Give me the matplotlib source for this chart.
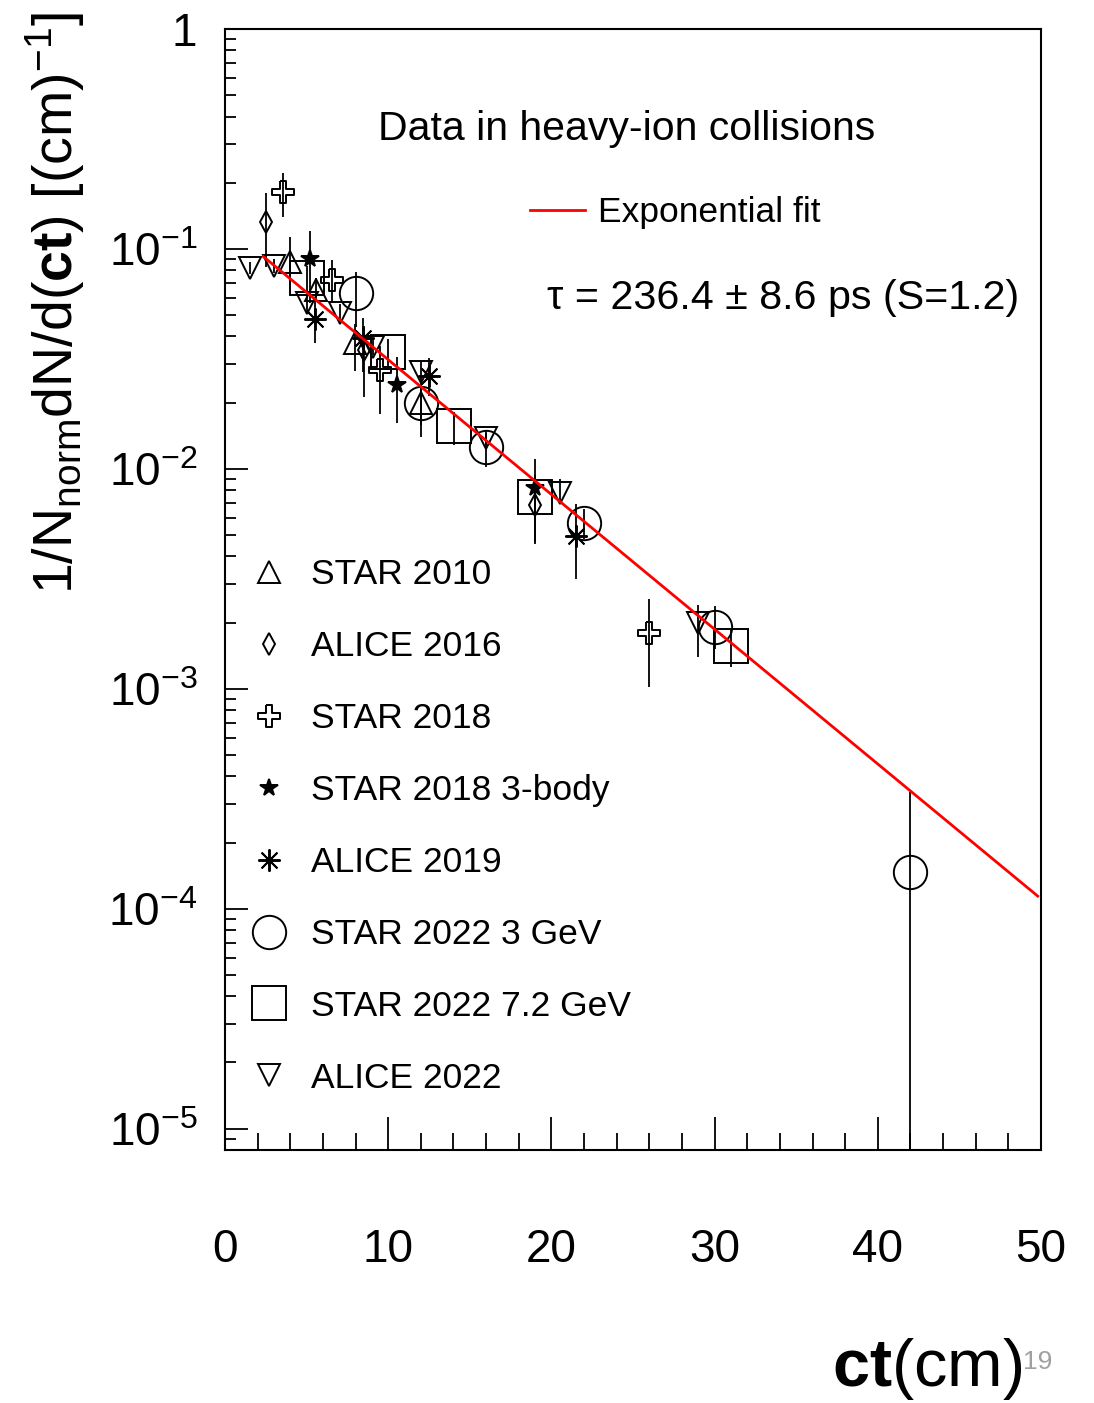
import numpy as np
import matplotlib
matplotlib.use('Agg')
import matplotlib.pyplot as plt
from matplotlib.ticker import MultipleLocator, FixedLocator, LogLocator, FuncFormatter, NullFormatter

plt.rcParams['font.family'] = ['Liberation Sans', 'DejaVu Sans']
plt.rcParams['mathtext.fontset'] = 'custom'
plt.rcParams['mathtext.rm'] = 'Liberation Sans'
plt.rcParams['mathtext.it'] = 'Liberation Sans:italic'
plt.rcParams['mathtext.bf'] = 'Liberation Sans:bold'

# ---- data: ct (cm), 1/N dN/d(ct), lower / upper errors ----
star2010_ct = [3.98, 5.55, 7.97, 12.0]
star2010_y = [0.0875, 0.065, 0.0375, 0.0200]
star2010_lo = [0.015, 0.0065, 0.0095, 0.006]
star2010_hi = [0.0255, 0.009, 0.008, 0.005]

alice2016_ct = [2.5, 8.52, 19.0]
alice2016_y = [0.133, 0.0347, 0.00686]
alice2016_lo = [0.05, 0.0135, 0.0022]
alice2016_hi = [0.047, 0.010, 0.0025]

star2018_ct = [3.53, 6.54, 9.5, 26.0]
star2018_y = [0.181, 0.0723, 0.0283, 0.0018]
star2018_lo = [0.041, 0.0153, 0.0105, 0.00078]
star2018_hi = [0.040, 0.0167, 0.008, 0.00077]

star2018b_ct = [5.2, 10.52, 19.0]
star2018b_y = [0.090, 0.0240, 0.00817]
star2018b_lo = [0.033, 0.0078, 0.0036]
star2018b_hi = [0.0307, 0.0082, 0.0029]

alice2019_ct = [5.51, 8.48, 12.52, 21.5]
alice2019_y = [0.048, 0.0393, 0.0265, 0.00495]
alice2019_lo = [0.0105, 0.0116, 0.005, 0.0018]
alice2019_hi = [0.012, 0.0093, 0.0053, 0.002]

star3gev_ct = [8.03, 12.0, 16.0, 22.0, 30.0, 42.0]
star3gev_y = [0.0633, 0.0199, 0.01256, 0.0057, 0.00192, 1.47e-4]
star3gev_lo = [0.019, 0.004, 0.0024, 0.0009, 0.0004, 1.468e-4]
star3gev_hi = [0.0156, 0.004, 0.002, 0.0009, 0.00046, 1.91e-4]

star72gev_ct = [5.0, 10.0, 14.03, 19.0, 31.0]
star72gev_y = [0.0738, 0.0341, 0.0157, 0.00748, 0.00156]
star72gev_lo = [0.010, 0.005, 0.0028, 0.001, 0.0003]
star72gev_hi = [0.010, 0.005, 0.0025, 0.001, 0.0003]

alice2022_ct = [1.53, 3.0, 5.04, 7.05, 9.09, 12.0, 16.0, 20.5, 29.0]
alice2022_y = [0.082, 0.084, 0.0566, 0.051, 0.036, 0.0275, 0.0138, 0.00776, 0.0020]
alice2022_lo = [0.005, 0.006, 0.005, 0.005, 0.003, 0.003, 0.001, 0.0006, 0.0006]
alice2022_hi = [0.005, 0.006, 0.005, 0.005, 0.003, 0.003, 0.001, 0.0012, 0.0004]

# exponential fit
tau_ps = 236.4
tau_err = 8.6
s_factor = 1.2
fit_norm = 0.1286
fit_range = [2.35, 49.8]
c_cm_per_ps = 0.0299792458

fig = plt.figure(figsize=(10.94, 14.03), dpi=100)
ax = fig.add_axes([225/1094, 1 - 1150/1403, 816/1094, 1121/1403])

cw = 0.3
cross = [(-cw, 1), (cw, 1), (cw, cw), (1, cw), (1, -cw), (cw, -cw), (cw, -1),
         (-cw, -1), (-cw, -cw), (-1, -cw), (-1, cw), (-cw, cw), (-cw, 1)]

series = [
    ('STAR 2010', star2010_ct, star2010_y, star2010_lo, star2010_hi, '^', 16, 'none'),
    ('ALICE 2016', alice2016_ct, alice2016_y, alice2016_lo, alice2016_hi, 'd', 10.7, 'none'),
    ('STAR 2018', star2018_ct, star2018_y, star2018_lo, star2018_hi, cross, 16, 'none'),
    ('STAR 2018 3-body', star2018b_ct, star2018b_y, star2018b_lo, star2018b_hi, '*', 13, 'k'),
    ('ALICE 2019', alice2019_ct, alice2019_y, alice2019_lo, alice2019_hi, (8, 2, 0), 16, 'none'),
    ('STAR 2022 3 GeV', star3gev_ct, star3gev_y, star3gev_lo, star3gev_hi, 'o', 24, 'none'),
    ('STAR 2022 7.2 GeV', star72gev_ct, star72gev_y, star72gev_lo, star72gev_hi, 's', 24, 'none'),
    ('ALICE 2022', alice2022_ct, alice2022_y, alice2022_lo, alice2022_hi, 'v', 16, 'none'),
]

handles = []
for name, x, y, lo, hi, mk, ms, fc in series:
    ax.errorbar(x, y, yerr=[lo, hi], fmt='none', ecolor='k', elinewidth=1.3, capsize=0)
    h, = ax.plot(x, y, ls='none', marker=mk, ms=ms, mfc=fc, mec='k', mew=1.4, label=name)
    handles.append(h)

fx = np.linspace(fit_range[0], fit_range[1], 200)
fit_line, = ax.plot(fx, fit_norm * np.exp(-fx / (tau_ps * c_cm_per_ps)), color='red', lw=2.0)

ax.set_xlim(0, 50)
ax.set_yscale('log')
ax.set_ylim(8.0e-6, 1.0)

ax.xaxis.set_major_locator(MultipleLocator(10))
ax.xaxis.set_minor_locator(MultipleLocator(2))
ax.yaxis.set_major_locator(FixedLocator([1e-5, 1e-4, 1e-3, 1e-2, 1e-1, 1]))
ax.yaxis.set_minor_locator(LogLocator(base=10, subs=np.arange(2, 10)))
ax.yaxis.set_minor_formatter(NullFormatter())
ax.yaxis.set_major_formatter(FuncFormatter(
    lambda v, p: '1' if v >= 1 else r'$10^{%d}$' % round(np.log10(v))))

ax.tick_params(axis='x', which='major', direction='in', length=24, width=1.3, pad=56, labelsize=33)
ax.tick_params(axis='x', which='minor', direction='in', length=12, width=1.3)
ax.tick_params(axis='y', which='major', direction='in', length=16.5, width=1.3, pad=20, labelsize=33)
ax.tick_params(axis='y', which='minor', direction='in', length=8, width=1.3)
for sp in ax.spines.values():
    sp.set_linewidth(1.5)

leg1 = ax.legend(handles=handles, loc='upper left', bbox_to_anchor=(0.032, 0.528),
                 frameon=False, fontsize=25.5, handlelength=1.0, handletextpad=0.7,
                 labelspacing=1.10, borderpad=0, borderaxespad=0, numpoints=1)
ax.add_artist(leg1)
ax.legend([fit_line], ['Exponential fit'], loc='upper left', bbox_to_anchor=(0.374, 0.851),
          frameon=False, fontsize=25.5, handlelength=1.55, handletextpad=0.37,
          borderpad=0, borderaxespad=0)

ax.text(0.4926, 0.911, 'Data in heavy-ion collisions', transform=ax.transAxes,
        ha='center', va='center', fontsize=29.5)
ax.text(0.684, 0.760, 'τ = %.1f ± %.1f ps (S=%.1f)' % (tau_ps, tau_err, s_factor),
        transform=ax.transAxes, ha='center', va='center', fontsize=29.7)

fig.text(55/1094, 1 - 12/1403, r'1/N$_{\mathrm{norm}}$dN/d($\mathbf{ct}$) [(cm)$^{-1}$]',
         rotation=90, ha='center', va='top', fontsize=40)
fig.text(1022/1094, 1 - 1386/1403, r'$\mathbf{ct}$(cm)', ha='right', va='baseline', fontsize=48)
fig.text(1023/1094, 1 - 1362/1403, '19', fontsize=19, color='#a0a0a0', ha='left', va='center')

fig.savefig('out.png', dpi=100)
